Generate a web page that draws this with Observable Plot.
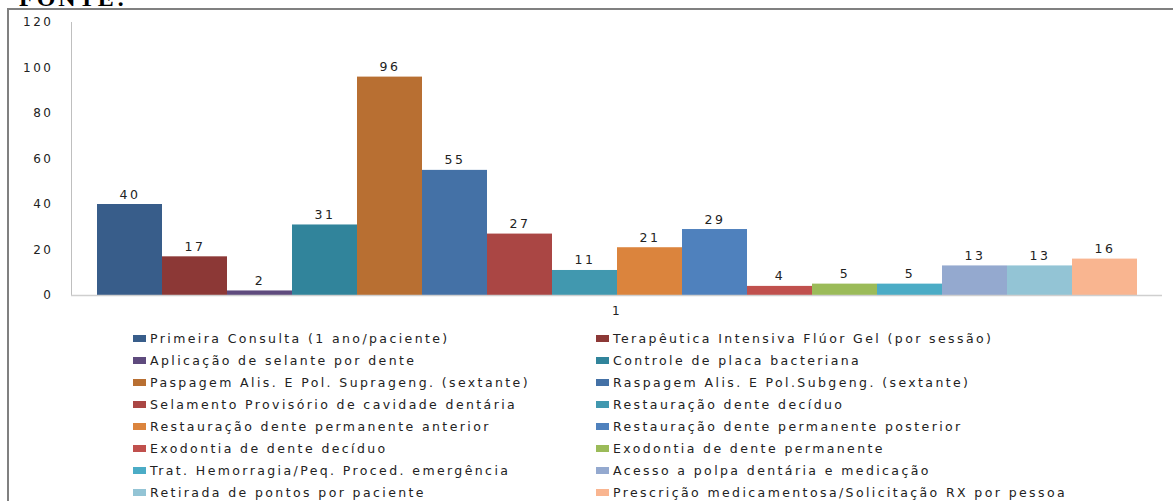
<!DOCTYPE html>
<html>
<head>
<meta charset="utf-8">
<script src="https://cdn.jsdelivr.net/npm/d3@7"></script>
<script src="https://cdn.jsdelivr.net/npm/@observablehq/plot@0.6"></script>
<style>
  html, body { margin: 0; padding: 0; width: 1173px; height: 501px; overflow: hidden; background: #fff; }
  #page { position: relative; width: 1173px; height: 501px; overflow: hidden; }
  #fonte { position: absolute; left: 19px; top: -14px; font: bold 24px "Liberation Serif", serif; letter-spacing: 3px; line-height: 24px; color: #000; }
  #box { position: absolute; left: 7px; top: 8px; width: 1200px; height: 600px; border-left: 2px solid #808080; border-top: 2px solid #808080; }
  #chart { position: absolute; left: 0; top: 0; }
  #legend { position: absolute; left: 133px; top: 327px; display: grid; grid-template-columns: 463px 560px; grid-auto-rows: 22.1px;
            font: 12.5px "DejaVu Sans", sans-serif; letter-spacing: 2.4px; color: #222; }
  .item { display: flex; align-items: center; white-space: nowrap; }
  .sw { width: 13px; height: 7px; margin-right: 4px; flex: none; }
</style>
</head>
<body>
<div id="page">
  <div id="fonte">FONTE:</div>
  <div id="box"></div>
  <div id="chart"></div>
  <div id="legend"></div>
</div>
<script>
const categories = ["1"];
const series = [
  "Primeira Consulta (1 ano/paciente)",
  "Terapêutica Intensiva Flúor Gel (por sessão)",
  "Aplicação de selante por dente",
  "Controle de placa bacteriana",
  "Paspagem Alis. E Pol. Suprageng. (sextante)",
  "Raspagem Alis. E Pol.Subgeng. (sextante)",
  "Selamento Provisório de cavidade dentária",
  "Restauração dente decíduo",
  "Restauração dente permanente anterior",
  "Restauração dente permanente posterior",
  "Exodontia de dente decíduo",
  "Exodontia de dente permanente",
  "Trat. Hemorragia/Peq. Proced. emergência",
  "Acesso a polpa dentária e medicação",
  "Retirada de pontos por paciente",
  "Prescrição medicamentosa/Solicitação RX por pessoa"
];
const values = [40, 17, 2, 31, 96, 55, 27, 11, 21, 29, 4, 5, 5, 13, 13, 16];
const colors = ["#385D8A","#8C3836","#5E4A7D","#31849B","#B86F32","#4471A6","#AA4644","#4198AF",
                "#DB843D","#4F81BD","#C0504D","#9BBB59","#4BACC6","#94A9CF","#93C4D5","#F9B590"];
const yTicks = [0, 20, 40, 60, 80, 100, 120];

const data = series.map((s, i) => ({cat: categories[0], serie: s, value: values[i]}));

const chart = Plot.plot({
  width: 1173,
  height: 320,
  marginTop: 22,
  marginBottom: 25,
  marginLeft: 71,
  marginRight: 11,
  style: {fontFamily: "DejaVu Sans, sans-serif", fontSize: "12px", color: "#222", letterSpacing: "2.5px", background: "transparent"},
  fx: {domain: categories, padding: 0, label: null, tickSize: 0, tickPadding: 11},
  x: {domain: series, paddingInner: 0, paddingOuter: 0.352, axis: null},
  y: {domain: [0, 120], ticks: yTicks, tickSize: 0, tickPadding: 18, label: null},
  color: {domain: series, range: colors},
  marks: [
    Plot.frame({anchor: "left", stroke: "#bfbfbf"}),
    Plot.barY(data, {fx: "cat", x: "serie", y: "value", fill: "serie"}),
    Plot.ruleY([0], {stroke: "#cfcfcf", strokeWidth: 1.5}),
    Plot.text(data, {fx: "cat", x: "serie", y: "value", text: d => String(d.value), lineAnchor: "bottom", dy: -6, fill: "#222", fontSize: 12.5})
  ]
});
document.getElementById("chart").appendChild(chart);

const legend = document.getElementById("legend");
series.forEach((s, i) => {
  const item = document.createElement("div");
  item.className = "item";
  const sw = document.createElement("span");
  sw.className = "sw";
  sw.style.background = colors[i];
  const t = document.createElement("span");
  t.textContent = s;
  item.appendChild(sw);
  item.appendChild(t);
  legend.appendChild(item);
});
</script>
</body>
</html>
